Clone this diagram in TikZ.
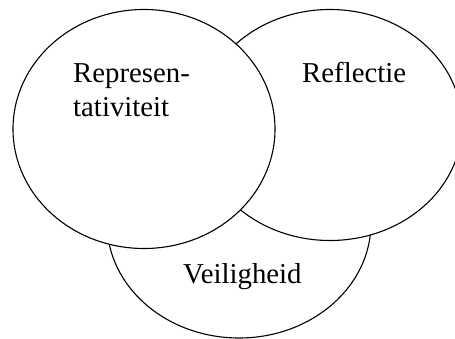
\documentclass[tikz,border=0pt]{standalone}
\usepackage{fontspec}
\setmainfont{Liberation Serif}
\usetikzlibrary{shapes.geometric}
\begin{document}
\begin{tikzpicture}[x=1pt,y=-1pt,
  circ/.style={ellipse,draw=black,fill=white,line width=1.1pt,inner sep=0pt,outer sep=0pt},
  lbl/.style={anchor=base west,inner sep=0pt,font=\fontsize{28.8}{34}\selectfont,align=left}]
\useasboundingbox (0,0) rectangle (455,339);
\clip (0,0) rectangle (455,339);
\node[circ,minimum width=264pt,minimum height=230pt] (veil) at (239,223) {};
\node[circ,minimum width=264pt,minimum height=231pt] (refl) at (330,125) {};
\node[circ,minimum width=262pt,minimum height=239pt] (repr) at (144,129) {};
\node[lbl] (trepr) at (73,117) {Represen-\\tativiteit};
\node[lbl] (trefl) at (302,83) {Reflectie};
\node[lbl] (tveil) at (183,283) {Veiligheid};
\end{tikzpicture}
\end{document}
